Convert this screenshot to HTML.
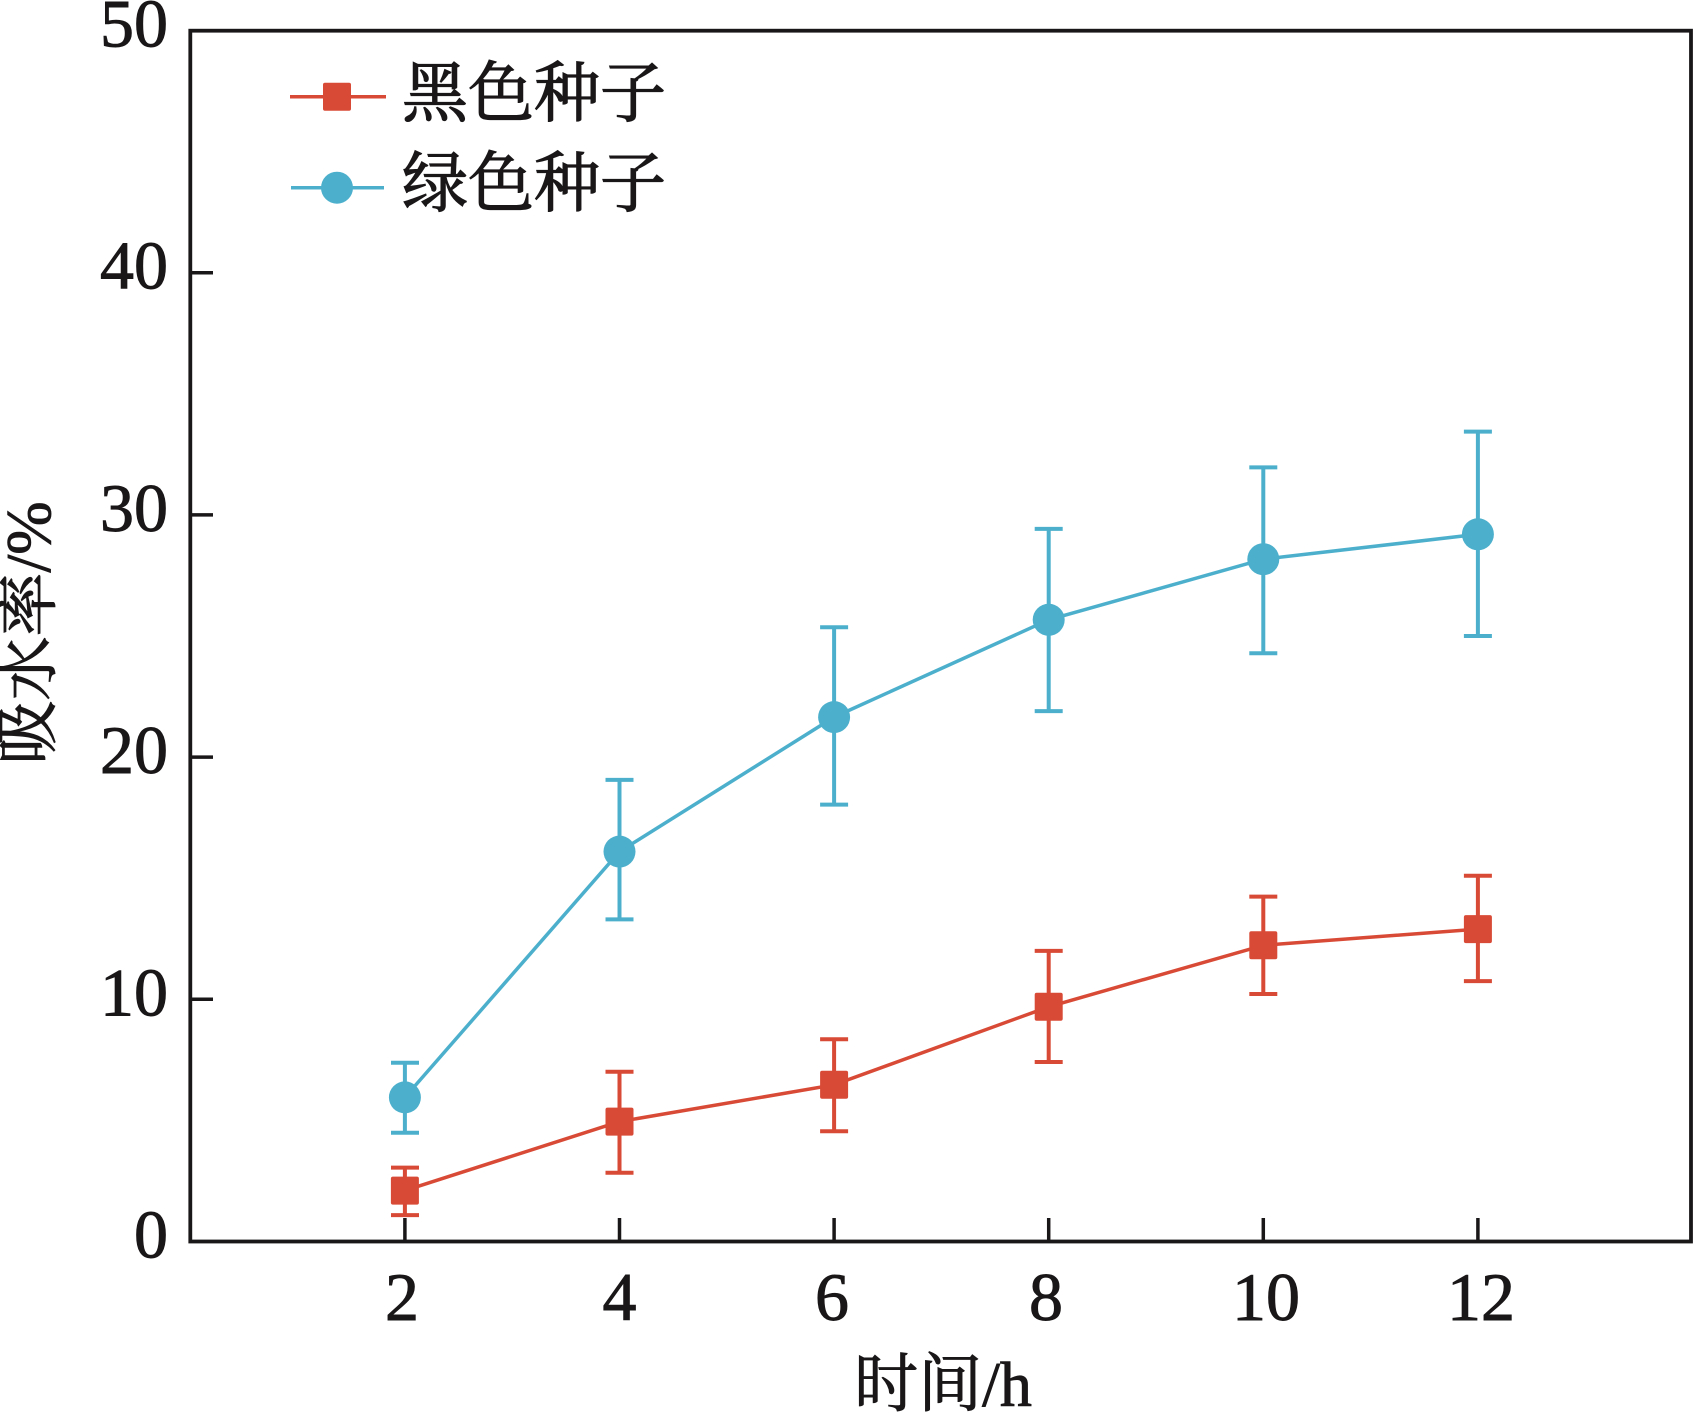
<!DOCTYPE html>
<html>
<head>
<meta charset="utf-8">
<style>
  html, body { margin:0; padding:0; background:#fff; }
  svg { display:block; }
  text { font-family: "Liberation Serif", "Noto Serif CJK SC", serif; fill:#1a1718; stroke:#1a1718; stroke-width:0.9; }
</style>
</head>
<body>
<svg width="1695" height="1415" viewBox="0 0 1695 1415" xmlns="http://www.w3.org/2000/svg">
  <rect x="0" y="0" width="1695" height="1415" fill="#fff"/>

  <!-- Axes frame -->
  <rect x="190.3" y="30.7" width="1500.7" height="1210.8" fill="none" stroke="#1a1718" stroke-width="3.8"/>

  <!-- Y ticks -->
  <g stroke="#1a1718" stroke-width="3.5">
    <line x1="190.3" y1="999.3" x2="213" y2="999.3"/>
    <line x1="190.3" y1="757.1" x2="213" y2="757.1"/>
    <line x1="190.3" y1="514.9" x2="213" y2="514.9"/>
    <line x1="190.3" y1="272.7" x2="213" y2="272.7"/>
  </g>
  <!-- X ticks -->
  <g stroke="#1a1718" stroke-width="3.5">
    <line x1="404.9" y1="1241.5" x2="404.9" y2="1218"/>
    <line x1="619.5" y1="1241.5" x2="619.5" y2="1218"/>
    <line x1="834.1" y1="1241.5" x2="834.1" y2="1218"/>
    <line x1="1048.7" y1="1241.5" x2="1048.7" y2="1218"/>
    <line x1="1263.3" y1="1241.5" x2="1263.3" y2="1218"/>
    <line x1="1477.9" y1="1241.5" x2="1477.9" y2="1218"/>
  </g>

  <!-- Y tick labels -->
  <g font-size="68" text-anchor="end">
    <text x="168" y="1257.5">0</text>
    <text x="168" y="1015.3">10</text>
    <text x="168" y="773.1">20</text>
    <text x="168" y="530.9">30</text>
    <text x="168" y="288.7">40</text>
    <text x="168" y="46.5">50</text>
  </g>
  <!-- X tick labels -->
  <g font-size="68" text-anchor="middle">
    <text x="402" y="1320">2</text>
    <text x="619.5" y="1320">4</text>
    <text x="832" y="1320">6</text>
    <text x="1046" y="1320">8</text>
    <text x="1266" y="1320">10</text>
    <text x="1481" y="1320">12</text>
  </g>

  <!-- Axis titles -->
  <text x="943" y="1406" font-size="64" text-anchor="middle">时间/h</text>
  <text x="50" y="633" font-size="64" text-anchor="middle" transform="rotate(-90 50 633)">吸水率/%</text>

  <!-- Blue series (绿色种子) -->
  <g stroke="#4cb0cc" stroke-width="4" fill="none">
    <polyline stroke-width="3.5" points="404.9,1097.4 619.5,851.6 834.1,717.1 1048.7,619.8 1263.3,559.2 1477.9,534.3"/>
    <line x1="404.9" y1="1062.8" x2="404.9" y2="1132.7"/>
    <line x1="391" y1="1062.8" x2="419" y2="1062.8"/>
    <line x1="391" y1="1132.7" x2="419" y2="1132.7"/>

    <line x1="619.5" y1="779.9" x2="619.5" y2="919.4"/>
    <line x1="605.5" y1="779.9" x2="633.5" y2="779.9"/>
    <line x1="605.5" y1="919.4" x2="633.5" y2="919.4"/>

    <line x1="834.1" y1="627.3" x2="834.1" y2="804.6"/>
    <line x1="820.1" y1="627.3" x2="848.1" y2="627.3"/>
    <line x1="820.1" y1="804.6" x2="848.1" y2="804.6"/>

    <line x1="1048.7" y1="528.9" x2="1048.7" y2="711.1"/>
    <line x1="1034.7" y1="528.9" x2="1062.7" y2="528.9"/>
    <line x1="1034.7" y1="711.1" x2="1062.7" y2="711.1"/>

    <line x1="1263.3" y1="467.4" x2="1263.3" y2="653.2"/>
    <line x1="1249.3" y1="467.4" x2="1277.3" y2="467.4"/>
    <line x1="1249.3" y1="653.2" x2="1277.3" y2="653.2"/>

    <line x1="1477.9" y1="431.6" x2="1477.9" y2="636.0"/>
    <line x1="1463.9" y1="431.6" x2="1491.9" y2="431.6"/>
    <line x1="1463.9" y1="636.0" x2="1491.9" y2="636.0"/>
  </g>
  <g fill="#4cb0cc">
    <circle cx="404.9" cy="1097.4" r="16"/>
    <circle cx="619.5" cy="851.6" r="16"/>
    <circle cx="834.1" cy="717.1" r="16"/>
    <circle cx="1048.7" cy="619.8" r="16"/>
    <circle cx="1263.3" cy="559.2" r="16"/>
    <circle cx="1477.9" cy="534.3" r="16"/>
  </g>

  <!-- Red series (黑色种子) -->
  <g stroke="#d94a36" stroke-width="4" fill="none">
    <polyline stroke-width="3.5" points="404.9,1190.6 619.5,1121.6 834.1,1084.8 1048.7,1006.8 1263.3,945.3 1477.9,929.1"/>
    <line x1="404.9" y1="1167.6" x2="404.9" y2="1215.1"/>
    <line x1="391" y1="1167.6" x2="419" y2="1167.6"/>
    <line x1="391" y1="1215.1" x2="419" y2="1215.1"/>

    <line x1="619.5" y1="1071.7" x2="619.5" y2="1172.7"/>
    <line x1="605.5" y1="1071.7" x2="633.5" y2="1071.7"/>
    <line x1="605.5" y1="1172.7" x2="633.5" y2="1172.7"/>

    <line x1="834.1" y1="1039.3" x2="834.1" y2="1131.3"/>
    <line x1="820.1" y1="1039.3" x2="848.1" y2="1039.3"/>
    <line x1="820.1" y1="1131.3" x2="848.1" y2="1131.3"/>

    <line x1="1048.7" y1="950.9" x2="1048.7" y2="1062.0"/>
    <line x1="1034.7" y1="950.9" x2="1062.7" y2="950.9"/>
    <line x1="1034.7" y1="1062.0" x2="1062.7" y2="1062.0"/>

    <line x1="1263.3" y1="896.6" x2="1263.3" y2="994.0"/>
    <line x1="1249.3" y1="896.6" x2="1277.3" y2="896.6"/>
    <line x1="1249.3" y1="994.0" x2="1277.3" y2="994.0"/>

    <line x1="1477.9" y1="875.8" x2="1477.9" y2="981.1"/>
    <line x1="1463.9" y1="875.8" x2="1491.9" y2="875.8"/>
    <line x1="1463.9" y1="981.1" x2="1491.9" y2="981.1"/>
  </g>
  <g fill="#d94a36">
    <rect x="390.9" y="1176.6" width="28" height="28" rx="2"/>
    <rect x="605.5" y="1107.6" width="28" height="28" rx="2"/>
    <rect x="820.1" y="1070.8" width="28" height="28" rx="2"/>
    <rect x="1034.7" y="992.8" width="28" height="28" rx="2"/>
    <rect x="1249.3" y="931.3" width="28" height="28" rx="2"/>
    <rect x="1463.9" y="915.1" width="28" height="28" rx="2"/>
  </g>

  <!-- Legend -->
  <line x1="290" y1="96.7" x2="386" y2="96.7" stroke="#d94a36" stroke-width="3.5"/>
  <rect x="323" y="82.7" width="28" height="28" rx="2" fill="#d94a36"/>
  <text x="402" y="116" font-size="66" style="stroke-width:1.2">黑色种子</text>

  <line x1="291" y1="187.7" x2="384" y2="187.7" stroke="#4cb0cc" stroke-width="3.5"/>
  <circle cx="337" cy="187.7" r="16" fill="#4cb0cc"/>
  <text x="402" y="206" font-size="66" style="stroke-width:1.2">绿色种子</text>
</svg>
</body>
</html>
